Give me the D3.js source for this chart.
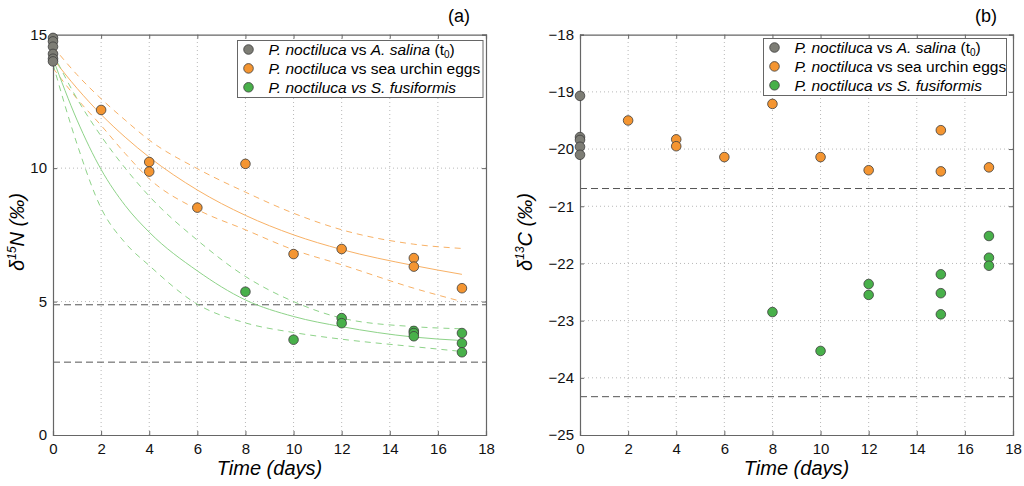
<!DOCTYPE html>
<html><head><meta charset="utf-8">
<script src="https://cdn.jsdelivr.net/npm/d3@7"></script>
<style>
body{margin:0;background:#fff;}
text{font-family:"Liberation Sans",Arial,Helvetica,sans-serif;}
</style></head>
<body><svg id="c" width="1024" height="486"></svg>
<script>
// ---------- data ----------
const xTicks = [0,2,4,6,8,10,12,14,16,18];
const yTicksN = [0,5,10,15];
const yTicksC = [-25,-24,-23,-22,-21,-20,-19,-18];

const salinaTimesN = [0,0,0,0,0,0];
const salinaN15 = [14.88,14.75,14.55,14.28,14.1,14.0];
const urchinTimesN = [2,4,4,6,8,10,12,15,15,17];
const urchinN15 = [12.18,10.23,9.87,8.52,10.16,6.78,6.97,6.63,6.31,5.5];
const fusiTimesN = [8,10,12,12,15,15,15,17,17,17];
const fusiN15 = [5.37,3.57,4.38,4.19,3.9,3.82,3.7,3.82,3.44,3.1];

const salinaTimesC = [0,0,0,0,0];
const salinaC13 = [-19.07,-19.79,-19.84,-19.96,-20.10];
const urchinTimesC = [2,4,4,6,8,10,12,15,15,17];
const urchinC13 = [-19.5,-19.83,-19.95,-20.14,-19.21,-20.14,-20.37,-19.67,-20.39,-20.32];
const fusiTimesC = [8,10,12,12,15,15,15,17,17,17];
const fusiC13 = [-22.85,-23.53,-22.36,-22.55,-22.19,-22.52,-22.89,-21.52,-21.90,-22.04];

const refN15 = [4.88,2.73];
const refC13 = [-20.69,-24.33];

// fitted curves
const fitTimes = [0,1,2,3,4,6,8,10,12,15,17];
const urchinFit   = [14.1,12.99,12.01,11.16,10.41,9.18,8.23,7.50,6.95,6.35,6.02];
const urchinUpper = [14.55,13.5,12.6,11.8,11.05,9.98,9.1,8.31,7.69,7.15,6.99];
const urchinLower = [13.75,12.6,11.6,10.55,9.6,8.45,7.69,6.94,6.38,5.5,5.0];
const fusiFit     = [14.1,11.8,9.95,8.6,7.6,6.15,5.06,4.44,4.06,3.67,3.54];
const fusiUpper   = [14.3,12.6,11.2,10.0,8.95,7.3,5.94,5.0,4.38,4.06,3.98];
const fusiLower   = [13.9,10.9,8.5,7.2,6.35,4.9,4.2,3.84,3.59,3.31,3.13];

const colors = {grey:"#7d7d75", orange:"#f49531", green:"#48b04a", orangeLine:"#f8b166", greenLine:"#8ed389"};

// ---------- drawing ----------
const svg = d3.select("#c");

function panel(opts){
  const g = svg.append("g");
  const x = d3.scaleLinear().domain([0,18]).range([opts.left, opts.left+433]);
  const y = d3.scaleLinear().domain(opts.yDomain).range([435, 34.7]);
  const [x0,x1] = x.range(), [y0,y1] = y.range();
  // grid
  g.append("g").selectAll("line").data(xTicks.slice(1,-1)).join("line")
    .attr("x1",d=>x(d)).attr("x2",d=>x(d)).attr("y1",y0).attr("y2",y1)
    .attr("stroke","#b8b8b8").attr("stroke-width",1).attr("stroke-dasharray","1,3");
  g.append("g").selectAll("line").data(opts.yTicks.slice(1,-1)).join("line")
    .attr("x1",x0).attr("x2",x1).attr("y1",d=>y(d)).attr("y2",d=>y(d))
    .attr("stroke","#b8b8b8").attr("stroke-width",1).attr("stroke-dasharray","1,3");
  // reference lines
  g.append("g").selectAll("line").data(opts.refs).join("line")
    .attr("x1",x0).attr("x2",x1).attr("y1",d=>y(d)).attr("y2",d=>y(d))
    .attr("stroke","#555").attr("stroke-width",1).attr("stroke-dasharray","7,4");
  // curves
  const line = d3.line().x((d,i)=>x(fitTimes[i])).y(d=>y(d)).curve(d3.curveMonotoneX);
  (opts.curves||[]).forEach(c=>{
    g.append("path").attr("d",line(c.v)).attr("fill","none")
      .attr("stroke",c.color).attr("stroke-width",1)
      .attr("stroke-dasharray",c.dash?"6,5":null);
  });
  // axes
  const axB = d3.axisBottom(x).tickValues(xTicks).tickSize(-4).tickPadding(8).tickFormat(d3.format("d"));
  const axT = d3.axisTop(x).tickValues(xTicks).tickSize(-4).tickFormat("");
  const axL = d3.axisLeft(y).tickValues(opts.yTicks).tickSize(-4).tickPadding(6).tickFormat(d=>d3.format("d")(d).replace("-","\u2212"));
  const axR = d3.axisRight(y).tickValues(opts.yTicks).tickSize(-4).tickFormat("");
  [[axB,`translate(0,${y0})`],[axT,`translate(0,${y1})`],[axL,`translate(${x0},0)`],[axR,`translate(${x1},0)`]].forEach(([a,t])=>{
    const ag = g.append("g").attr("transform",t).call(a);
    ag.select(".domain").attr("stroke","#666").attr("stroke-width",1.2);
    ag.selectAll(".tick line").attr("stroke","#666");
    ag.selectAll(".tick text").attr("font-size",15).attr("fill","#111")
      .style("font-family","'Liberation Sans',Arial,sans-serif");
  });
  // points
  function pts(times, vals, col){
    g.append("g").selectAll("circle").data(vals).join("circle")
      .attr("cx",(d,i)=>x(times[i])).attr("cy",d=>y(d)).attr("r",4.8)
      .attr("fill",col).attr("stroke","#3c3c3c").attr("stroke-width",0.8);
  }
  pts(opts.salT, opts.salV, colors.grey);
  pts(opts.urT, opts.urV, colors.orange);
  pts(opts.fuT, opts.fuV, colors.green);
  // labels
  g.append("text").attr("x",opts.left+opts.tagDx).attr("y",22).attr("text-anchor","middle")
    .attr("font-size",18).text(opts.tag);
  g.append("text").attr("x",(x0+x1)/2).attr("y",475).attr("text-anchor","middle")
    .attr("font-size",20).attr("font-style","italic").text("Time (days)");
  const yl = g.append("text").attr("transform",`translate(${opts.ylabX},232) rotate(-90)`)
    .attr("text-anchor","middle").attr("font-size",20).attr("font-style","italic");
  yl.append("tspan").text("\u03b4");
  yl.append("tspan").attr("font-size",12).attr("dy",-8).text(opts.iso);
  yl.append("tspan").attr("dy",8).text(opts.el + " (\u2030)");
  // legend
  const L = opts.legend;
  const lg = g.append("g");
  lg.append("rect").attr("x",L.x).attr("y",L.y).attr("width",L.w).attr("height",57)
    .attr("fill","#fff").attr("stroke","#666").attr("stroke-width",1);
  const rows = [
    {c:colors.grey, parts:[["P. noctiluca",1],[" vs ",0],["A. salina",1],[" (t",0],["0",2],[")",0]]},
    {c:colors.orange, parts:[["P. noctiluca",1],[" vs sea urchin eggs",0]]},
    {c:colors.green, parts:[["P. noctiluca vs S. fusiformis",1]]}
  ];
  rows.forEach((r,i)=>{
    const cy = L.y + 9 + i*18.9;
    lg.append("circle").attr("cx",L.x+11).attr("cy",cy).attr("r",4.8)
      .attr("fill",r.c).attr("stroke","#3c3c3c").attr("stroke-width",0.8);
    const t = lg.append("text").attr("x",L.x+31).attr("y",cy+5.5).attr("font-size",15.5);
    r.parts.forEach(p=>{
      const ts = t.append("tspan").text(p[0]);
      if(p[1]===1) ts.attr("font-style","italic");
      if(p[1]===2) ts.attr("font-size",10).attr("dy",3);
      if(p[0]===")") ts.attr("dy",-3);
    });
  });
}

panel({left:53, yDomain:[0,15], yTicks:yTicksN, refs:refN15, tag:"(a)", tagDx:406, ylabX:24, iso:"15", el:"N",
  curves:[
    {v:urchinUpper,color:colors.orangeLine,dash:true},{v:urchinLower,color:colors.orangeLine,dash:true},
    {v:urchinFit,color:colors.orangeLine},
    {v:fusiUpper,color:colors.greenLine,dash:true},{v:fusiLower,color:colors.greenLine,dash:true},
    {v:fusiFit,color:colors.greenLine}],
  salT:salinaTimesN, salV:salinaN15, urT:urchinTimesN, urV:urchinN15, fuT:fusiTimesN, fuV:fusiN15,
  legend:{x:237.5,y:40.5,w:245.5}});

panel({left:580, yDomain:[-25,-18], yTicks:yTicksC, refs:refC13, tag:"(b)", tagDx:406, ylabX:532, iso:"13", el:"C",
  curves:[],
  salT:salinaTimesC, salV:salinaC13, urT:urchinTimesC, urV:urchinC13, fuT:fusiTimesC, fuV:fusiC13,
  legend:{x:763.5,y:38.5,w:243}});
</script>
</body></html>
